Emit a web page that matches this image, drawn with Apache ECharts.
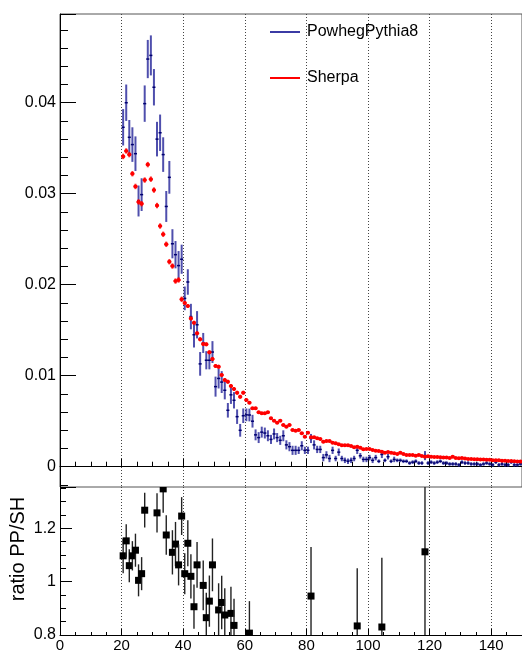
<!DOCTYPE html>
<html>
<head>
<meta charset="utf-8">
<script src="https://cdn.jsdelivr.net/npm/echarts@6/dist/echarts.min.js"></script>
<style>html,body{margin:0;padding:0;background:#fff;}#c{width:522px;height:653px;}</style>
</head>
<body>
<div id="c"></div>
<script>
// Binning of the histograms (1 GeV bins starting at 20)
const binLow = 20, binWidth = 1;
const xTicks = [0, 20, 40, 60, 80, 100, 120, 140];

// PowhegPythia8 (blue) bin contents, bins 20.5 ... 149.5
const ppVal = [
 0.0373,0.0400,0.0362,0.0354,0.0344,0.0292,0.0299,0.0399,0.0448,0.0452,
 0.0417,0.0360,0.0367,0.0343,0.0286,0.0318,0.0245,0.0233,0.0221,0.0228,
 0.0185,0.0203,0.0165,0.0145,0.0156,0.0113,0.0136,0.0117,0.0117,0.0126,
 0.0088,0.0097,0.0093,0.0084,0.0062,0.0079,0.0073,0.0055,0.0040,0.0056,
 0.0057,0.00568,0.0050,0.0035,0.0032,0.0038,0.0037,0.0034,0.0030,0.0036,
 0.0032,0.0029,0.0034,0.0024,0.0022,0.0018,0.0018,0.0018,0.0023,0.0018,
 0.0018,0.0031,0.0024,0.0019,0.0019,0.0010,0.0013,0.0009,0.0018,0.0009,
 0.0016,0.0009,0.0007,0.0006,0.0007,0.0009,0.0018,0.0012,0.0008,0.0008,
 0.0010,0.0007,0.0010,0.0006,0.00135,0.0007,0.0011,0.0006,0.0008,0.0007,
 0.0007,0.0006,0.0006,0.0004,0.0005,0.0006,0.0004,0.0004,0.00122,0.0004,
 0.0005,0.0004,0.0005,0.0006,0.0004,0.0004,0.0003,0.0003,0.0003,0.0002,
 0.0005,0.0004,0.0004,0.0003,0.0003,0.0003,0.0002,0.0003,0.0004,0.0003,
 0.0002,0.0005,0.0002,0.0003,0.0002,0.0002,0.0005,0.0002,0.0002,0.0003
];
const ppErr = [
 0.0020,0.0020,0.0019,0.0019,0.0019,0.0017,0.0018,0.0020,0.0021,0.0022,
 0.0020,0.0019,0.0020,0.0019,0.0017,0.0018,0.0016,0.0015,0.0016,0.0016,
 0.0013,0.0014,0.0014,0.0014,0.0015,0.0013,0.0011,0.0010,0.0010,0.0012,
 0.0011,0.0011,0.0012,0.0010,0.0008,0.0010,0.0009,0.0008,0.0007,0.0008,
 0.0007,0.0007,0.0007,0.0006,0.0006,0.0006,0.0006,0.0006,0.0005,0.0006,
 0.0005,0.0005,0.0006,0.0005,0.0005,0.0005,0.0005,0.0004,0.0005,0.0004,
 0.0004,0.0005,0.0005,0.0004,0.0004,0.0004,0.0004,0.0004,0.0004,0.0003,
 0.0004,0.0003,0.0003,0.0003,0.0003,0.0003,0.0004,0.0003,0.0003,0.0003,
 0.0003,0.0003,0.0003,0.0002,0.0004,0.0002,0.0003,0.0002,0.0003,0.0002,
 0.0002,0.0002,0.0002,0.0002,0.0002,0.0002,0.0002,0.0002,0.0005,0.0002,
 0.0002,0.0002,0.0002,0.0002,0.0002,0.0002,0.0002,0.0002,0.0002,0.0002,
 0.0002,0.0002,0.0002,0.0002,0.0002,0.0002,0.0002,0.0002,0.0002,0.0002,
 0.0002,0.0002,0.0002,0.0002,0.0002,0.0002,0.0002,0.0002,0.0002,0.0002
];

// Sherpa (red) bin contents, bins 20.5 ... 149.5
const shVal = [
 0.0341,0.0347,0.0343,0.0322,0.0308,0.0291,0.0289,0.0315,0.0332,0.0316,
 0.0304,0.0287,0.02645,0.02554,0.02444,0.02253,0.02205,0.0204,0.02052,0.0184,
 0.0180,0.01766,0.0163,0.01582,0.01466,0.0140,0.01348,0.01345,0.01257,0.01184,
 0.01107,0.01099,0.01008,0.00953,0.00934,0.00887,0.00854,0.00813,0.00769,0.00813,
 0.00733,0.00703,0.00642,0.00642,0.00598,0.00587,0.00587,0.00598,0.00532,0.00506,
 0.00484,0.00506,0.00458,0.0044,0.00458,0.00403,0.00396,0.00403,0.00367,0.0033,
 0.00374,0.00323,0.00323,0.00312,0.00304,0.00275,0.00282,0.00282,0.00264,0.00257,
 0.00246,0.00235,0.00235,0.00235,0.00227,0.00213,0.0022,0.00209,0.00191,0.00195,
 0.00195,0.00184,0.00176,0.00172,0.00165,0.00154,0.00162,0.00154,0.00147,0.0014,
 0.00154,0.0014,0.00129,0.00129,0.00129,0.00121,0.0013,0.00118,0.0011,0.00115,
 0.0011,0.00107,0.00107,0.00105,0.0010,0.00102,0.00095,0.0011,0.00095,0.00092,
 0.00095,0.0009,0.00085,0.00085,0.00082,0.00082,0.0008,0.00078,0.00076,0.00076,
 0.0007,0.00072,0.0007,0.00066,0.00066,0.00063,0.00062,0.0006,0.00058,0.00058
];
const shErr = [
 0.0003,0.0003,0.0003,0.0003,0.0003,0.0003,0.0003,0.0003,0.0003,0.0003,
 0.0003,0.0003,0.0003,0.0003,0.0003,0.0003,0.0003,0.0003,0.0003,0.0003,
 0.00022,0.00022,0.00022,0.00022,0.00022,0.00022,0.00022,0.00022,0.00022,0.00022,
 0.00022,0.00022,0.00022,0.00022,0.00022,0.00022,0.00022,0.00022,0.00022,0.00022,
 0.00015,0.00015,0.00015,0.00015,0.00015,0.00015,0.00015,0.00015,0.00015,0.00015,
 0.00015,0.00015,0.00015,0.00015,0.00015,0.00015,0.00015,0.00015,0.00015,0.00015,
 0.00015,0.00015,0.00015,0.00015,0.00015,0.00015,0.00015,0.00015,0.00015,0.00015,
 0.0001,0.0001,0.0001,0.0001,0.0001,0.0001,0.0001,0.0001,0.0001,0.0001,
 0.0001,0.0001,0.0001,0.0001,0.0001,0.0001,0.0001,0.0001,0.0001,0.0001,
 0.0001,0.0001,0.0001,0.0001,0.0001,0.0001,0.0001,0.0001,0.0001,0.0001,
 0.0001,0.0001,0.0001,0.0001,0.0001,0.0001,0.0001,0.0001,0.0001,0.0001,
 0.0001,0.0001,0.0001,0.0001,0.0001,0.0001,0.0001,0.0001,0.0001,0.0001,
 0.0001,0.0001,0.0001,0.0001,0.0001,0.0001,0.0001,0.0001,0.0001,0.0001
];

// Ratio PP/SH (points visible inside the ratio window)
const ratioX = [20.5,21.5,22.5,23.5,24.5,25.5,26.5,27.5,31.5,33.5,34.5,36.5,37.5,38.5,39.5,40.5,41.5,42.5,43.5,44.5,46.5,47.5,48.5,49.5,51.5,52.5,53.5,55.5,56.5,61.5,81.5,96.5,104.5,118.5];
const ratioVal = [1.097,1.153,1.060,1.097,1.118,1.005,1.030,1.268,1.258,1.348,1.175,1.110,1.141,1.063,1.246,1.030,1.144,1.020,0.906,1.063,0.986,0.865,0.927,1.063,0.894,0.922,0.875,0.881,0.836,0.807,0.946,0.834,0.830,1.112];
const ratioErr = [0.065,0.062,0.062,0.055,0.062,0.060,0.062,0.065,0.074,0.09,0.074,0.083,0.083,0.077,0.071,0.077,0.086,0.083,0.083,0.086,0.093,0.093,0.096,0.099,0.10,0.10,0.10,0.10,0.10,0.12,0.184,0.216,0.26,0.6];

const seriesNames = ['PowhegPythia8', 'Sherpa'];

// ---- build data for the library ----
const ppData = ppVal.map((v, i) => [binLow + (i + 0.5) * binWidth, v, ppErr[i]]);
const shData = shVal.map((v, i) => [binLow + (i + 0.5) * binWidth, v, shErr[i]]);
const ratioData = ratioX.map((x, i) => [x, ratioVal[i], ratioErr[i]]);

const FONT = 'Liberation Sans, Arial, Helvetica, sans-serif';
const TOPMIN = -0.00223, TOPMAX = 0.04975;
const RMIN = 0.8, RMAX = 1.355;

function renderPP(params, api) {
  const c = api.value(0), v = api.value(1), e = api.value(2);
  const hw = binWidth / 2;
  const a = api.coord([c, v + e]), b = api.coord([c, v - e]);
  const l = api.coord([c - hw, v]), r = api.coord([c + hw, v]);
  return {type: 'group', children: [
    {type: 'line', shape: {x1: a[0], y1: a[1], x2: b[0], y2: b[1]}, style: {stroke: 'rgba(30,30,150,0.78)', lineWidth: 2}},
    {type: 'line', shape: {x1: l[0], y1: l[1], x2: r[0], y2: r[1]}, style: {stroke: '#000070', lineWidth: 1.5}}
  ]};
}
function renderSH(params, api) {
  const c = api.value(0), v = api.value(1), e = api.value(2);
  const hw = binWidth / 2;
  const a = api.coord([c, v + e]), b = api.coord([c, v - e]);
  const l = api.coord([c - hw, v]), r = api.coord([c + hw, v]);
  const p = api.coord([c, v]);
  return {type: 'group', children: [
    {type: 'line', shape: {x1: a[0], y1: a[1], x2: b[0], y2: b[1]}, style: {stroke: 'rgba(255,0,0,0.75)', lineWidth: 2}},
    {type: 'line', shape: {x1: l[0] - 0.5, y1: l[1], x2: r[0] + 0.5, y2: r[1]}, style: {stroke: 'rgba(255,0,0,0.75)', lineWidth: 2}},
    {type: 'circle', shape: {cx: p[0], cy: p[1], r: 2}, style: {fill: '#ff0000'}}
  ]};
}
function renderRatio(params, api) {
  const c = api.value(0), v = api.value(1), e = api.value(2);
  const hi = Math.min(v + e, RMAX), lo = Math.max(v - e, RMIN);
  const a = api.coord([c, hi]), b = api.coord([c, lo]);
  const children = [
    {type: 'line', shape: {x1: a[0], y1: a[1], x2: b[0], y2: b[1]}, style: {stroke: '#222', lineWidth: 1.4}}
  ];
  const p = api.coord([c, Math.min(Math.max(v, RMIN), RMAX)]);
  children.push({type: 'rect', shape: {x: p[0] - 3.5, y: p[1] - 3.5, width: 7, height: 7}, style: {fill: '#000'}});
  return {type: 'group', children};
}

const chart = echarts.init(document.getElementById('c'), null, {renderer: 'canvas'});

const xCommon = {
  type: 'value', min: 0, max: 150, interval: 20,
  axisLine: {show: true, lineStyle: {color: '#000', width: 1}},
  splitLine: {show: true, lineStyle: {color: '#444', type: [1, 2], width: 1}},
  minorTick: {show: true, splitNumber: 4, length: 5, lineStyle: {color: '#000'}},
  axisTick: {show: true, inside: true, length: 8, lineStyle: {color: '#000'}}
};

const option = {
  animation: false,
  backgroundColor: '#fff',
  textStyle: {fontFamily: FONT},
  grid: [
    {left: 60, top: 14, width: 465, height: 473, show: true, borderColor: '#555', borderWidth: 1, backgroundColor: 'transparent'},
    {left: 60, top: 487, width: 465, height: 150, show: false}
  ],
  legend: {
    orient: 'vertical', left: 270, top: 24, padding: 0, itemWidth: 30, itemHeight: 2, itemGap: 30,
    icon: 'rect',
    textStyle: {fontFamily: FONT, fontSize: 16, color: '#000', lineHeight: 16, padding: [0, 0, 0, 2]},
    data: [{name: seriesNames[0]}, {name: seriesNames[1]}]
  },
  xAxis: [
    Object.assign({}, xCommon, {gridIndex: 0, axisLabel: {show: false}}),
    Object.assign({}, xCommon, {gridIndex: 1,
      axisTick: {show: true, inside: true, length: 6, lineStyle: {color: '#000'}},
      minorTick: {show: true, splitNumber: 4, length: 3, lineStyle: {color: '#000'}},
      axisLabel: {show: true, margin: 3, fontSize: 15, color: '#000', fontFamily: FONT, showMaxLabel: false,
        formatter: v => (xTicks.indexOf(v) >= 0 ? String(v) : '')}})
  ],
  yAxis: [
    {type: 'value', gridIndex: 0, min: TOPMIN, max: TOPMAX, splitNumber: 5,
     axisLine: {show: true, lineStyle: {color: '#000'}},
     axisTick: {show: true, inside: true, length: 16, lineStyle: {color: '#000'}},
     minorTick: {show: true, splitNumber: 5, length: 8, lineStyle: {color: '#000'}},
     splitLine: {show: false},
     axisLabel: {show: true, margin: 4, fontSize: 16, color: '#000', fontFamily: FONT, showMinLabel: false, showMaxLabel: false,
       formatter: v => (Math.abs(v) < 1e-9 ? '0' : (Math.abs(v * 100 - Math.round(v * 100)) < 1e-6 ? v.toFixed(2) : ''))}},
    {type: 'value', gridIndex: 1, min: RMIN, max: RMAX, interval: 0.2,
     axisLine: {show: true, lineStyle: {color: '#000'}},
     axisTick: {show: true, inside: true, length: 12, lineStyle: {color: '#000'}},
     minorTick: {show: true, splitNumber: 4, length: 6, lineStyle: {color: '#000'}},
     splitLine: {show: false},
     axisLabel: {show: true, margin: 4, fontSize: 16, color: '#000', fontFamily: FONT, showMaxLabel: false,
       formatter: v => (v > 1.3 ? '' : String(Math.round(v * 10) / 10))}}
  ],
  series: [
    {name: seriesNames[0], type: 'custom', xAxisIndex: 0, yAxisIndex: 0, clip: true,
     itemStyle: {color: '#3b3ba4'}, data: ppData, renderItem: renderPP, z: 3},
    {name: seriesNames[1], type: 'custom', xAxisIndex: 0, yAxisIndex: 0, clip: true,
     itemStyle: {color: '#ff0000'}, data: shData, renderItem: renderSH, z: 4},
    {name: 'ratio', type: 'custom', xAxisIndex: 1, yAxisIndex: 1, clip: true,
     itemStyle: {color: '#000'}, data: ratioData, renderItem: renderRatio, z: 3}
  ],
  graphic: [
    {type: 'text', x: 18, y: 549, rotation: Math.PI / 2,
     style: {text: 'ratio PP/SH', font: '20px ' + FONT, fill: '#000', textAlign: 'center', textVerticalAlign: 'middle'}}
  ]
};
chart.setOption(option);
</script>
</body>
</html>
